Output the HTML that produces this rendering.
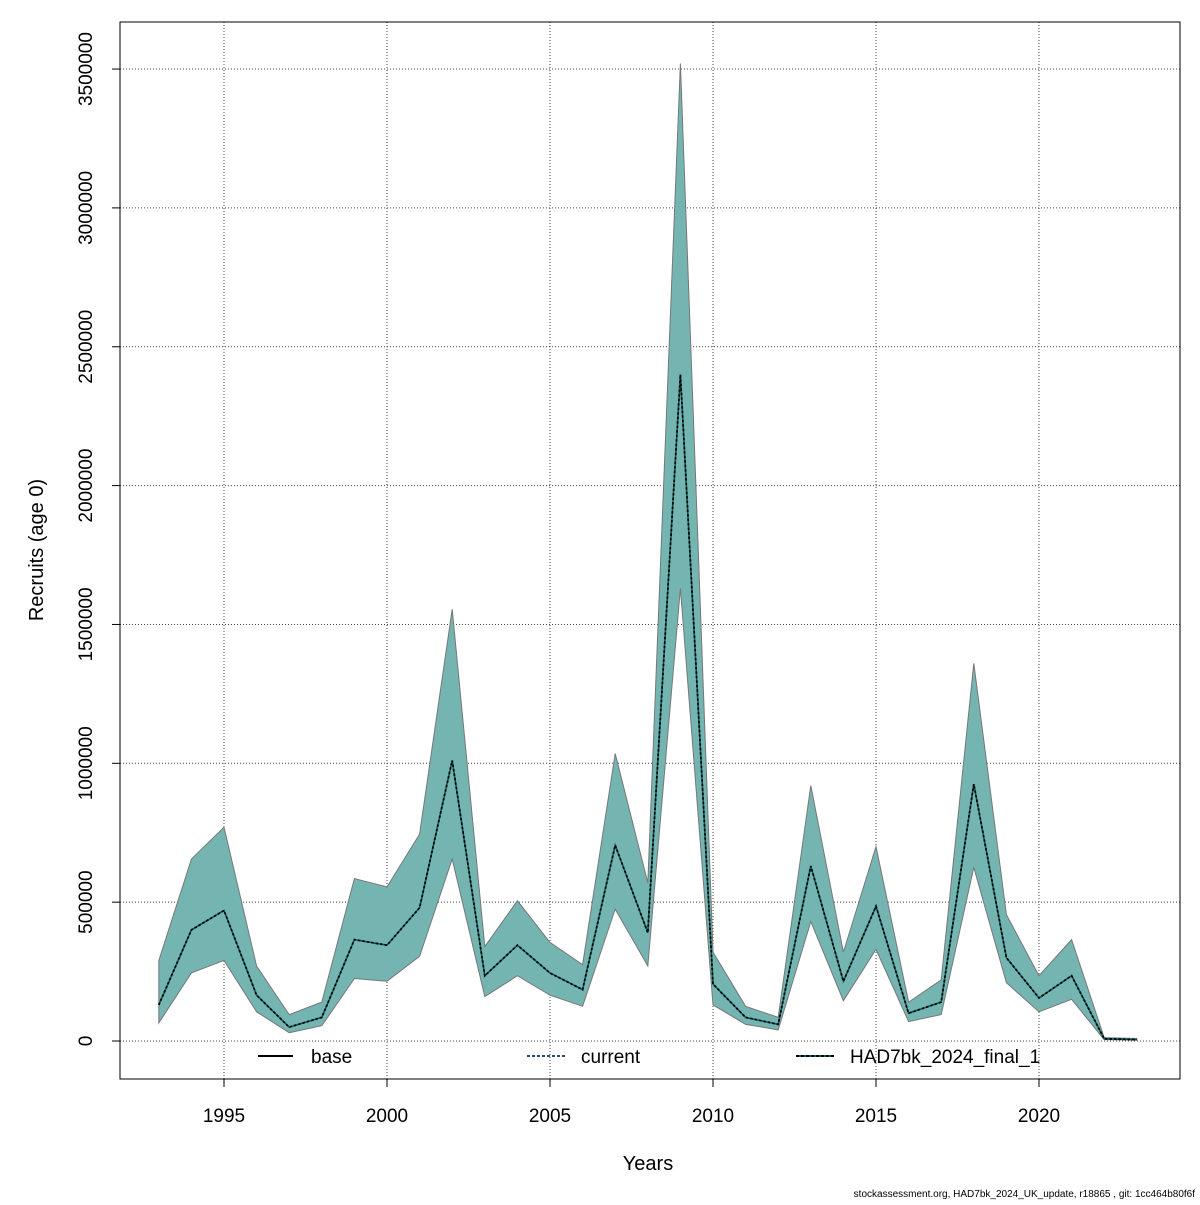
<!DOCTYPE html>
<html><head><meta charset="utf-8"><style>
body{margin:0;background:#fff}
svg text{font-family:"Liberation Sans",sans-serif;fill:#000}
</style></head><body>
<svg id="chart" width="1200" height="1200" xmlns="http://www.w3.org/2000/svg">
<rect x="0" y="0" width="1200" height="1200" fill="#fff"/>
<g id="grid"></g>
<g id="band"></g>
<g id="lines"></g>
<g id="axes"></g>
<rect x="120" y="22" width="1060" height="1057" fill="none" stroke="#000" stroke-width="1"/>
<text x="648" y="1170" font-size="20" text-anchor="middle">Years</text>
<text transform="translate(43,550) rotate(-90)" font-size="20" text-anchor="middle">Recruits (age 0)</text>
<g>
<g><line x1="258" y1="1056" x2="293" y2="1056" stroke="#000" stroke-width="2"/><text x="311" y="1063" font-size="19">base</text></g>
<g><line x1="527" y1="1056" x2="565" y2="1056" stroke="#1f4e79" stroke-width="2" stroke-dasharray="3,2"/><text x="581" y="1063" font-size="19">current</text></g>
<g><line x1="796" y1="1056" x2="834" y2="1056" stroke="#006060" stroke-width="2"/><line x1="796" y1="1056" x2="834" y2="1056" stroke="#000" stroke-width="2" stroke-dasharray="3,2"/><text x="850" y="1063" font-size="19">HAD7bk_2024_final_1</text></g>
</g>
<text x="1195" y="1197" font-size="10" text-anchor="end">stockassessment.org, HAD7bk_2024_UK_update, r18865 , git: 1cc464b80f6f</text>
</svg>
<script>
const years=[1993,1994,1995,1996,1997,1998,1999,2000,2001,2002,2003,2004,2005,2006,2007,2008,2009,2010,2011,2012,2013,2014,2015,2016,2017,2018,2019,2020,2021,2022,2023];
const estimate=[130000,400000,470000,165000,50000,85000,365000,345000,480000,1010000,235000,345000,245000,185000,705000,390000,2400000,205000,85000,60000,630000,215000,485000,100000,140000,925000,300000,155000,235000,8000,5000];
const upper=[290000,655000,770000,270000,95000,140000,585000,555000,745000,1555000,340000,505000,355000,275000,1035000,570000,3520000,320000,125000,85000,920000,320000,700000,140000,220000,1360000,455000,235000,365000,12000,9000];
const lower=[65000,245000,290000,105000,30000,55000,225000,215000,305000,655000,160000,235000,165000,125000,475000,270000,1630000,130000,60000,40000,430000,145000,330000,70000,95000,625000,210000,105000,150000,5000,3000];
const xTicks=[1995,2000,2005,2010,2015,2020];
const yTicks=[0,500000,1000000,1500000,2000000,2500000,3000000,3500000];
const NS="http://www.w3.org/2000/svg";
const X=v=>224+(v-1995)*32.6;
const Y=v=>1041-v*277.7/1e6;
function mk(tag,attrs,parent){const e=document.createElementNS(NS,tag);for(const k in attrs)e.setAttribute(k,attrs[k]);document.getElementById(parent).appendChild(e);return e;}
xTicks.forEach(t=>{
 const g=mk('line',{x1:X(t),x2:X(t),y1:22,y2:1079,stroke:'#444','stroke-dasharray':'1,2'},'grid');
 
 
 const tk=mk('line',{x1:X(t),x2:X(t),y1:1079,y2:1087,stroke:'#000'},'axes');
 
 
 const tx=mk('text',{x:X(t),y:1122,'font-size':19,'text-anchor':'middle'},'axes');tx.textContent=t;
 
 
});
yTicks.forEach(t=>{
 const g=mk('line',{x1:120,x2:1180,y1:Y(t),y2:Y(t),stroke:'#444','stroke-dasharray':'1,2'},'grid');
 
 
 const tk=mk('line',{x1:112,x2:120,y1:Y(t),y2:Y(t),stroke:'#000'},'axes');
 
 
 const tx=mk('text',{transform:`translate(92,${Y(t)}) rotate(-90)`,'font-size':19,'text-anchor':'middle'},'axes');tx.textContent=t;
 
 
});
let pts=years.map((y,i)=>X(y)+','+Y(upper[i]));
for(let i=years.length-1;i>=0;i--)pts.push(X(years[i])+','+Y(lower[i]));
const poly=mk('polygon',{points:pts.join(' '),fill:'#74b5b2',stroke:'#777','stroke-width':1},'band');


const lp=years.map((y,i)=>X(y)+','+Y(estimate[i])).join(' ');
const l1=mk('polyline',{points:lp,fill:'none',stroke:'#005a5a','stroke-width':1.5},'lines');


const l2=mk('polyline',{points:lp,fill:'none',stroke:'#000','stroke-width':1.8,'stroke-dasharray':'2.5,2'},'lines');


</script>
</body></html>
